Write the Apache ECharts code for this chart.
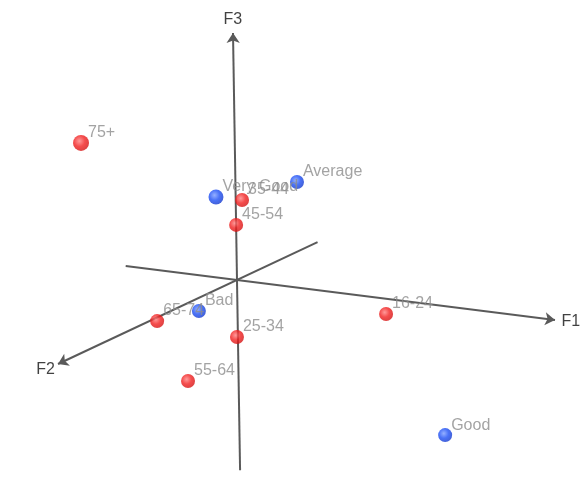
<!DOCTYPE html>
<html><head><meta charset="utf-8">
<script src="https://cdn.jsdelivr.net/npm/echarts@6/dist/echarts.min.js"></script>
<style>html,body{margin:0;padding:0;background:#fff}#c{width:587px;height:479px}</style>
</head><body><div id="c"></div>
<script>
// Data (3D coordinates on factors F1, F2, F3)
const ageLabels = ['16-24','25-34','35-44','45-54','55-64','65-74','75+'];
const ageF1 = [0.468, -0.003, 0.020, 0.000, 0.011, 0.002, -0.314];
const ageF2 = [0.000, 0.000, 0.000, 0.000, 0.300, 0.450, 0.300];
const ageF3 = [-0.062, -0.231, 0.327, 0.223, -0.305, -0.013, 0.606];

const healthLabels = ['Very Good','Good','Average','Bad'];
const healthF1 = [-0.062, 0.648, 0.194, -0.008];
const healthF2 = [0.000, 0.000, 0.000, 0.200];
const healthF3 = [0.326, -0.523, 0.428, -0.059];

const axisNames = ['F1','F2','F3'];
const axisMin = [-0.35, -0.45, -0.77];
const axisMax = [1, 1, 1];

// Fixed oblique view projection (camera)
const view = { o: [237, 280], e1: [318, 40], e2: [-179, 84], e3: [-4, -247] };
function proj(a, b, c) {
  return [view.o[0] + a*view.e1[0] + b*view.e2[0] + c*view.e3[0],
          view.o[1] + a*view.e1[1] + b*view.e2[1] + c*view.e3[1]];
}
function unitVec(i, v) { const p = [0,0,0]; p[i] = v; return p; }

const axisLines = axisNames.map((n, i) => ({
  coords: [proj(...unitVec(i, axisMin[i])), proj(...unitVec(i, axisMax[i]))]
}));
const axisTitlePos = [[1.05,0,0],[0,1.07,0],[0,0,1.055]];
const axisTitles = axisNames.map((n, i) => ({ name: n, value: proj(...axisTitlePos[i]) }));

function sphere(base, light, edge) {
  return { type: 'radial', x: 0.4, y: 0.38, r: 0.68,
    colorStops: [{offset: 0, color: light}, {offset: 0.5, color: base}, {offset: 1, color: edge}] };
}
const bigSizes = { '75+': 16, 'Very Good': 15 };
function pts(labels, f1, f2, f3) {
  return labels.map((l, i) => ({ name: l, value: proj(f1[i], f2[i], f3[i]), symbolSize: bigSizes[l] || 14 }));
}

const chart = echarts.init(document.getElementById('c'));
const labelStyle = { show: true, formatter: '{b}', position: 'right', distance: 0, offset: [-1, -10],
  color: '#8c8c8c', fontSize: 16, fontFamily: 'Liberation Sans, Arial, sans-serif' };
chart.setOption({
  animation: false,
  backgroundColor: '#fff',
  grid: { left: 0, right: 0, top: 0, bottom: 0 },
  xAxis: { type: 'value', min: 0, max: 587, show: false },
  yAxis: { type: 'value', min: 0, max: 479, inverse: true, show: false },
  series: [
    { type: 'lines', coordinateSystem: 'cartesian2d', polyline: false, silent: true, z: 1,
      symbol: ['none', 'arrow'], symbolSize: [0, 10],
      lineStyle: { color: '#5a5a5a', width: 2, opacity: 1 },
      data: axisLines },
    { type: 'scatter', symbolSize: 0, silent: true, z: 2,
      label: { show: true, formatter: '{b}', position: 'inside', color: '#111', fontSize: 16,
               fontFamily: 'Liberation Sans, Arial, sans-serif' },
      data: axisTitles },
    { type: 'scatter', z: 3, itemStyle: { color: sphere('#f22020', '#ff8080', '#d01010') },
      label: labelStyle, data: pts(ageLabels, ageF1, ageF2, ageF3) },
    { type: 'scatter', z: 3, itemStyle: { color: sphere('#1d4ff5', '#7a9cff', '#1236c8') },
      label: labelStyle, data: pts(healthLabels, healthF1, healthF2, healthF3) }
  ]
});
</script></body></html>
